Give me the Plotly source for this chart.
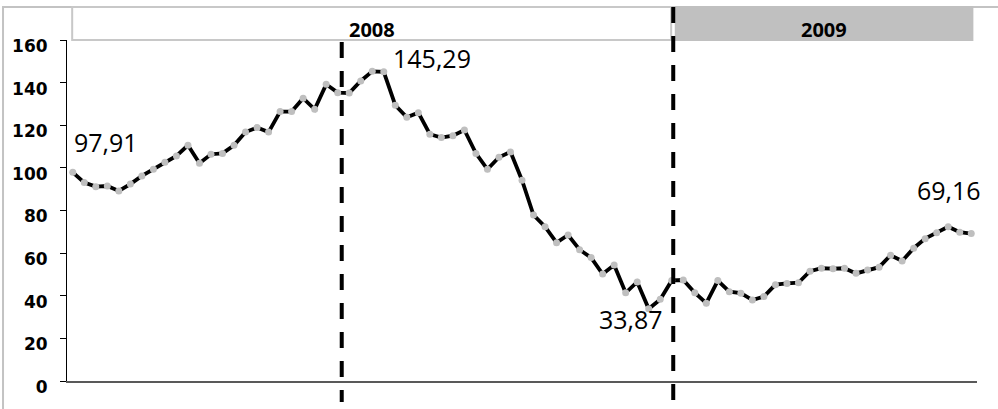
import plotly.graph_objects as go

# ---------------- data ----------------
weeks_2008 = [f"2008-W{i:02d}" for i in range(1, 53)]
weeks_2009 = [f"2009-W{i:02d}" for i in range(1, 28)]
weeks = weeks_2008 + weeks_2009

prices = [
    97.91, 93.1, 91.2, 91.5, 89.2, 92.4, 96.2, 99.3, 102.6, 105.6,
    110.6, 102.2, 106.4, 106.8, 110.6, 116.8, 118.9, 116.8, 126.4, 126.4,
    132.7, 127.5, 139.2, 135.3, 135.1, 140.8, 145.29, 145.1, 129.4, 123.7,
    125.9, 115.8, 114.2, 115.1, 117.8, 106.8, 99.3, 105.0, 107.5, 94.2,
    77.9, 72.4, 64.9, 68.5, 61.6, 57.9, 50.2, 54.4, 41.4, 46.5,
    33.87, 38.3, 47.2, 47.4, 41.4, 36.5, 47.1, 41.9, 41.2, 38.0,
    39.6, 45.2, 45.8, 46.1, 51.5, 52.9, 52.7, 52.9, 50.5, 52.1,
    53.4, 59.0, 56.3, 62.3, 66.8, 69.6, 72.4, 69.8, 69.16,
]

year_labels = ["2008", "2009"]
y_ticks = [0, 20, 40, 60, 80, 100, 120, 140, 160]
event_positions = [23.35, 52.13]   # vertical reference lines (week index)

# ---------------- figure ----------------
x_idx = list(range(len(weeks)))

fig = go.Figure()
fig.add_trace(go.Scatter(
    x=x_idx, y=prices, mode="lines+markers",
    line=dict(color="black", width=3.8),
    marker=dict(color="#bfbfbf", size=7, line=dict(width=0)),
    hoverinfo="skip", showlegend=False, cliponaxis=False,
))

def fmt(v):
    return f"{v:.2f}".replace(".", ",")

i_first = 0
i_max = prices.index(max(prices))
i_min = prices.index(min(prices))
i_last = len(prices) - 1

label_font = dict(family="Open Sans", size=25, color="black")
annots = [
    dict(x=i_first, y=prices[i_first], text=fmt(prices[i_first]), xanchor="left",
         yanchor="middle", xshift=-1, yshift=30),
    dict(x=i_max, y=prices[i_max], text=fmt(prices[i_max]), xanchor="left",
         yanchor="middle", xshift=19, yshift=13),
    dict(x=i_min, y=prices[i_min], text=fmt(prices[i_min]), xanchor="center",
         yanchor="middle", xshift=-18, yshift=-10),
    dict(x=i_last, y=prices[i_last], text=fmt(prices[i_last]), xanchor="center",
         yanchor="middle", xshift=-22, yshift=44),
]
for a in annots:
    fig.add_annotation(**a, showarrow=False, font=label_font, xref="x", yref="y")

# header boxes
box_y0, box_y1 = 1.0, 1.0968
year_boxes = [(-0.05, 51.95, "white"), (52.35, 78.1, "#c0c0c0")]
shapes = []
# outer chart border
shapes.append(dict(type="rect", xref="paper", yref="paper",
                   x0=-0.0703, x1=1.2, y0=-0.2, y1=1.0968,
                   line=dict(color="#c3c3c3", width=2), fillcolor="rgba(0,0,0,0)",
                   layer="below"))
for (x0, x1, fill), lab in zip(year_boxes, year_labels):
    shapes.append(dict(type="rect", xref="x", yref="paper", x0=x0, x1=x1,
                       y0=box_y0, y1=box_y1, fillcolor=fill,
                       line=dict(color="#c8c8c8" if fill == "white" else "#c0c0c0", width=2)))
    fig.add_annotation(x=(x0 + x1) / 2, y=1.032, xref="x", yref="paper", text=lab,
                       showarrow=False, xanchor="center", yanchor="middle",
                       font=dict(family="Open Sans", size=20, color="black", weight="bold"))

# vertical dashed lines
tops = [0.994, 1.0968]
for xp, top in zip(event_positions, tops):
    shapes.append(dict(type="line", xref="x", yref="paper", x0=xp, x1=xp,
                       y0=top, y1=-0.0616,
                       line=dict(color="black", width=4, dash="16px,13px")))

fig.update_layout(
    width=998, height=409,
    margin=dict(l=67, r=21, t=40, b=28),
    paper_bgcolor="white", plot_bgcolor="white",
    shapes=shapes,
    xaxis=dict(range=[-0.5, len(weeks) - 0.5], showticklabels=False, ticks="",
               showgrid=False, zeroline=False, showline=True,
               linecolor="#595959", linewidth=2),
    yaxis=dict(range=[0, 160], tickvals=y_ticks, ticks="outside", ticklen=6,
               tickcolor="black", tickwidth=1, showgrid=False, zeroline=False,
               showline=True, linecolor="black", linewidth=1,
               ticklabelstandoff=9, ticklabelshift=6,
               tickfont=dict(family="DejaVu Sans", size=17, color="black", weight="bold")),
)

fig.write_html(
    "out.html",
    config={"displayModeBar": False},
    post_script="document.body.style.margin='0';document.body.style.overflow='hidden';",
)
